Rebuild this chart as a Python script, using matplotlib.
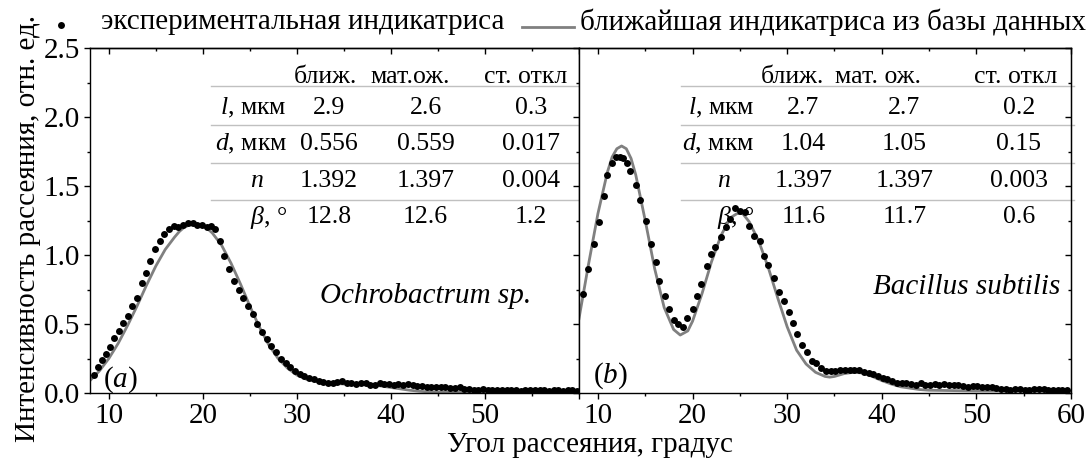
import matplotlib
matplotlib.use("Agg")
import matplotlib.pyplot as plt
from matplotlib.ticker import MultipleLocator
from matplotlib.lines import Line2D

plt.rcParams['font.family'] = ['Liberation Serif', 'DejaVu Serif']
plt.rcParams['mathtext.fontset'] = 'custom'
plt.rcParams['mathtext.rm'] = 'Liberation Serif'
plt.rcParams['mathtext.it'] = 'Liberation Serif:italic'

# ---------------- data ----------------
# panel (a) Ochrobactrum sp. : experimental points
a_exp_x = [8.4, 8.9, 9.3, 9.7, 10.1, 10.6, 11.1, 11.5, 12.0, 12.5, 13.0, 13.5, 14.0, 14.4, 14.9,
           15.4, 15.9, 16.4, 16.9, 17.4, 17.9, 18.4, 18.9, 19.4, 19.9, 20.4, 20.9, 21.3, 21.8,
           22.3, 22.8, 23.3, 23.8, 24.3, 24.8, 25.3, 25.8, 26.3, 26.8, 27.3, 27.8, 28.3, 28.8,
           29.3, 29.8, 30.3, 30.8, 31.3, 31.8, 32.3, 32.8, 33.3, 33.8, 34.3, 34.8, 35.3, 35.8,
           36.3, 36.8, 37.3, 37.8, 38.3, 38.8, 39.3, 39.8, 40.3, 40.8, 41.3, 41.8, 42.3, 42.8,
           43.3, 43.8, 44.3, 44.8, 45.3, 45.8, 46.3, 46.8, 47.3, 47.8, 48.3, 48.8, 49.3, 49.8,
           50.3, 50.8, 51.3, 51.8, 52.3, 52.8, 53.3, 53.8, 54.3, 54.8, 55.3, 55.8, 56.3, 56.8,
           57.3, 57.8, 58.3, 58.8, 59.3, 59.8]
a_exp_y = [0.13, 0.19, 0.24, 0.28, 0.33, 0.40, 0.45, 0.51, 0.56, 0.63, 0.69, 0.80, 0.87, 0.96, 1.04,
           1.10, 1.15, 1.19, 1.21, 1.20, 1.22, 1.23, 1.23, 1.22, 1.22, 1.20, 1.21, 1.19, 1.10,
           0.99, 0.90, 0.81, 0.75, 0.69, 0.63, 0.57, 0.50, 0.44, 0.39, 0.34, 0.30, 0.25, 0.22,
           0.19, 0.16, 0.14, 0.12, 0.11, 0.10, 0.09, 0.08, 0.075, 0.07, 0.08, 0.085, 0.075, 0.07,
           0.065, 0.07, 0.07, 0.06, 0.055, 0.07, 0.065, 0.065, 0.06, 0.065, 0.06, 0.065, 0.055, 0.05,
           0.05, 0.045, 0.045, 0.04, 0.04, 0.04, 0.035, 0.035, 0.04, 0.03, 0.03, 0.025, 0.025, 0.03,
           0.02, 0.02, 0.025, 0.02, 0.02, 0.025, 0.02, 0.015, 0.02, 0.025, 0.02, 0.02, 0.02, 0.015,
           0.02, 0.02, 0.015, 0.02, 0.02, 0.015]
# panel (a): nearest database curve
a_fit_x = [8, 9, 10, 11, 12, 13, 14, 15, 16, 17, 17.5, 18, 18.5, 19, 19.5, 20, 20.5, 21, 22, 23, 24,
           25, 26, 27, 28, 29, 30, 31, 32, 33, 34, 35, 36, 37, 38, 39, 40, 41, 42, 43, 44, 45,
           50, 55, 60]
a_fit_y = [0.09, 0.16, 0.25, 0.36, 0.49, 0.63, 0.78, 0.92, 1.04, 1.13, 1.17, 1.20, 1.215, 1.22, 1.22,
           1.21, 1.19, 1.16, 1.07, 0.94, 0.79, 0.63, 0.48, 0.35, 0.25, 0.18, 0.13, 0.10, 0.085,
           0.075, 0.07, 0.065, 0.065, 0.065, 0.06, 0.05, 0.04, 0.03, 0.02, 0.013, 0.008, 0.005,
           0.004, 0.004, 0.003]

# panel (b) Bacillus subtilis : experimental points
b_exp_x = [8.45, 9.0, 9.55, 10.1, 10.6, 11.0, 11.5, 11.95, 12.3, 12.7, 13.05, 13.4, 14.0, 14.5,
           15.1, 15.6, 16.1, 16.5, 17.1, 17.5, 18.0, 18.5, 19.0, 19.45, 20.0, 20.5, 20.9, 21.5,
           22.0, 22.4, 23.0, 23.5, 24.0, 24.5, 25.0, 25.5, 26.0, 26.5, 27.1, 27.6, 28.0, 28.6,
           29.1, 29.7, 30.2, 30.6, 31.0, 31.6, 32.1, 32.6, 33.1, 33.6, 34.1, 34.6, 35.1, 35.6,
           36.1, 36.6, 37.1, 37.6, 38.1, 38.6, 39.1, 39.6, 40.1, 40.6, 41.1, 41.6, 42.1, 42.6,
           43.1, 43.6, 44.1, 44.6, 45.1, 45.6, 46.1, 46.6, 47.1, 47.6, 48.1, 48.6, 49.1, 49.6,
           50.1, 50.6, 51.1, 51.6, 52.1, 52.6, 53.1, 53.6, 54.1, 54.6, 55.1, 55.6, 56.1, 56.6,
           57.1, 57.6, 58.1, 58.6, 59.1, 59.6]
b_exp_y = [0.72, 0.90, 1.08, 1.24, 1.43, 1.58, 1.67, 1.71, 1.71, 1.70, 1.67, 1.61, 1.51, 1.40,
           1.25, 1.08, 0.95, 0.81, 0.70, 0.61, 0.53, 0.50, 0.48, 0.54, 0.61, 0.70, 0.79, 0.92,
           1.01, 1.06, 1.13, 1.20, 1.26, 1.34, 1.32, 1.31, 1.21, 1.14, 1.10, 0.99, 0.93, 0.83,
           0.73, 0.67, 0.59, 0.51, 0.43, 0.35, 0.30, 0.23, 0.22, 0.18, 0.16, 0.16, 0.16, 0.165,
           0.165, 0.165, 0.17, 0.165, 0.155, 0.145, 0.14, 0.125, 0.11, 0.10, 0.085, 0.075, 0.07, 0.07,
           0.065, 0.06, 0.07, 0.06, 0.06, 0.065, 0.06, 0.065, 0.06, 0.055, 0.06, 0.05, 0.045, 0.05,
           0.05, 0.045, 0.04, 0.04, 0.035, 0.03, 0.03, 0.025, 0.03, 0.03, 0.025, 0.025, 0.03, 0.03,
           0.03, 0.025, 0.025, 0.02, 0.02, 0.02]
# panel (b): nearest database curve
b_fit_x = [8, 9, 10, 11, 11.5, 12, 12.5, 13, 13.5, 14, 15, 16, 17, 18, 18.7, 19.5, 20, 21, 22, 23,
           24, 24.7, 25.3, 26, 27, 28, 29, 30, 31, 32, 33, 34, 34.5, 35, 36, 37, 38, 39, 40, 41,
           42, 43, 44, 45, 50, 55, 60]
b_fit_y = [0.54, 0.93, 1.30, 1.60, 1.71, 1.77, 1.79, 1.77, 1.70, 1.58, 1.25, 0.90, 0.62, 0.46, 0.42,
           0.45, 0.52, 0.72, 0.95, 1.14, 1.27, 1.30, 1.30, 1.24, 1.10, 0.91, 0.69, 0.48, 0.31, 0.21,
           0.15, 0.12, 0.115, 0.12, 0.14, 0.15, 0.145, 0.12, 0.09, 0.065, 0.045, 0.035, 0.025, 0.02,
           0.015, 0.015, 0.012]

# tables
col_headers_a = ['ближ.', 'мат.ож.', 'ст. откл']
col_headers_b = ['ближ.', 'мат. ож.', 'ст. откл']
row_labels = [r'$l$, мкм', r'$d$, мкм', r'$n$', r'$\beta$, °']
table_a = [['2.9', '2.6', '0.3'],
           ['0.556', '0.559', '0.017'],
           ['1.392', '1.397', '0.004'],
           ['12.8', '12.6', '1.2']]
table_b = [['2.7', '2.7', '0.2'],
           ['1.04', '1.05', '0.15'],
           ['1.397', '1.397', '0.003'],
           ['11.6', '11.7', '0.6']]
species = ['Ochrobactrum sp.', 'Bacillus subtilis']
panel_tags = [r'($a$)', r'($b$)']
x_ticks = [10, 20, 30, 40, 50, 60]
y_ticks = [0.0, 0.5, 1.0, 1.5, 2.0, 2.5]

# ---------------- figure ----------------
W, H = 1090, 459
fig = plt.figure(figsize=(W / 100, H / 100), dpi=100)
bot = (H - 393) / H
hgt = 345 / H
ax1 = fig.add_axes([90 / W, bot, 489 / W, hgt])
ax2 = fig.add_axes([579 / W, bot, 492 / W, hgt])

FS = 21
TFS = 18.5
GRAY = '#808080'
SEP = '#c0c0c0'

for ax in (ax1, ax2):
    ax.set_xlim(8, 60)
    ax.set_ylim(0, 2.5)
    ax.set_xticks(x_ticks)
    ax.set_yticks(y_ticks)
    ax.xaxis.set_minor_locator(MultipleLocator(5))
    ax.yaxis.set_minor_locator(MultipleLocator(0.25))
    ax.tick_params(which='both', direction='out', top=False, right=False, labelsize=FS, width=1,
                   pad=3)
    ax.tick_params(which='major', length=4)
    ax.tick_params(which='minor', length=2.5)
    for s in ax.spines.values():
        s.set_linewidth(1.0)
    sx = ax.secondary_xaxis('top')
    sx.set_xticks(x_ticks)
    sx.xaxis.set_minor_locator(MultipleLocator(5))
    sx.tick_params(which='both', direction='in', labeltop=False, width=1)
    sx.tick_params(which='major', length=4)
    sx.tick_params(which='minor', length=2.5)
    sx.spines['top'].set_linewidth(1.0)

ax1.set_yticklabels(['0.0', '0.5', '1.0', '1.5', '2.0', '2.5'])
ax1.set_xticklabels(['10', '20', '30', '40', '50', ''])
ax2.tick_params(labelleft=False)
ax2.set_xticklabels([str(v) for v in x_ticks])
sy = ax2.secondary_yaxis('right')
sy.set_yticks(y_ticks)
sy.yaxis.set_minor_locator(MultipleLocator(0.25))
sy.tick_params(which='both', direction='in', labelright=False, width=1)
sy.tick_params(which='major', length=4)
sy.tick_params(which='minor', length=2.5)

# curves and points
ax1.plot(a_fit_x, a_fit_y, color=GRAY, lw=2.0, zorder=2)
ax1.plot(a_exp_x, a_exp_y, 'o', color='black', ms=5, mew=0, zorder=3)
ax2.plot(b_fit_x, b_fit_y, color=GRAY, lw=2.0, zorder=2)
ax2.plot(b_exp_x, b_exp_y, 'o', color='black', ms=5, mew=0, zorder=3)

# tables
row_y = [2.065, 1.805, 1.535, 1.275]
sep_y = [2.225, 1.94, 1.665, 1.395]
head_y = 2.29


def draw_table(ax, headers, data, lab_x, n_x, head_x, col_x, sep_x0, sep_x1):
    for hx, h in zip(head_x, headers):
        ax.text(hx, head_y, h, ha='center', va='center', fontsize=TFS, zorder=1)
    for sy_ in sep_y:
        ax.add_line(Line2D([sep_x0, sep_x1], [sy_, sy_], color=SEP, lw=1.0, zorder=1, clip_on=False))
    for i, (lab, row) in enumerate(zip(row_labels, data)):
        if lab == r'$n$':
            ax.text(n_x, row_y[i], lab, ha='center', va='center', fontsize=TFS, zorder=1)
        else:
            ax.text(lab_x, row_y[i], lab, ha='right', va='center', fontsize=TFS, zorder=1)
        for cx, v in zip(col_x, row):
            ax.text(cx, row_y[i], v, ha='center', va='center', fontsize=TFS, zorder=1)


draw_table(ax1, col_headers_a, table_a, 28.95, 25.8, [33.0, 42.0, 54.3], [33.4, 43.7, 54.9],
           20.9, 60.0)
draw_table(ax2, col_headers_b, table_b, 26.5, 23.3, [30.6, 39.6, 54.2], [31.7, 42.4, 54.5],
           18.8, 60.3)

ax1.text(54.9, 0.70, species[0], ha='right', va='center', fontsize=FS, style='italic')
ax2.text(58.9, 0.77, species[1], ha='right', va='center', fontsize=FS, style='italic')
ax1.text(9.35, 0.10, panel_tags[0], ha='left', va='center', fontsize=FS)
ax2.text(9.45, 0.125, panel_tags[1], ha='left', va='center', fontsize=FS)

# axis labels
fig.text(590 / W, 1 - 445 / H, 'Угол рассеяния, градус', ha='center', va='center', fontsize=FS)
fig.text(28 / W, 1 - 228 / H, 'Интенсивность рассеяния, отн. ед.', ha='center', va='center',
         rotation=90, fontsize=FS)

# legend (manual)
fig.add_artist(Line2D([61 / W], [1 - 25 / H], marker='o', color='black', ms=5, mew=0, ls='none'))
fig.text(101 / W, 1 - 22 / H, 'экспериментальная индикатриса', ha='left', va='center', fontsize=FS)
fig.add_artist(Line2D([522 / W, 574 / W], [1 - 27 / H, 1 - 27 / H], color=GRAY, lw=2.0))
fig.text(580 / W, 1 - 22 / H, 'ближайшая индикатриса из базы данных', ha='left', va='center', fontsize=FS)

fig.savefig('out.png', dpi=100)
